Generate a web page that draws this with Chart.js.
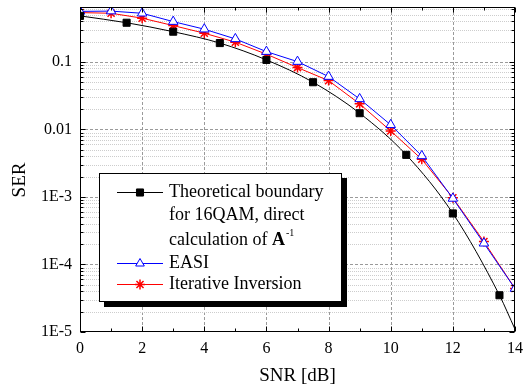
<!DOCTYPE html>
<html><head><meta charset="utf-8">
<script src="https://cdn.jsdelivr.net/npm/chart.js@4/dist/chart.umd.min.js"></script>
<style>html,body{margin:0;padding:0;background:#fff}#wrap{position:relative;width:527px;height:387px}</style>
</head><body><div id="wrap"><canvas id="c" width="527" height="387"></canvas></div>
<script>
// ---- data ----
const snrTheory = [0, 1.5, 3, 4.5, 6, 7.5, 9, 10.5, 12, 13.5, 14];
const serTheory = [0.48, 0.38, 0.28, 0.19, 0.107, 0.050, 0.0174, 0.0042, 5.7e-4, 3.5e-5, 1.1e-5];
const snr = [0, 1, 2, 3, 4, 5, 6, 7, 8, 9, 10, 11, 12, 13, 14];
const serEASI = [0.56, 0.565, 0.525, 0.395, 0.305, 0.219, 0.142, 0.101, 0.0606, 0.0283, 0.0117, 0.00405, 9.5e-4, 2.06e-4, 4.4e-5];
const serIter = [0.537, 0.525, 0.444, 0.345, 0.266, 0.196, 0.130, 0.0824, 0.0528, 0.0239, 0.0095, 0.00361, 9.7e-4, 2.18e-4, 4.4e-5];
const xTickValues = [0, 2, 4, 6, 8, 10, 12, 14];
const xTickLabels = ['0', '2', '4', '6', '8', '10', '12', '14'];
const yTickValues = [1e-5, 1e-4, 1e-3, 0.01, 0.1];
const yTickLabels = ['1E-5', '1E-4', '1E-3', '0.01', '0.1'];
const seriesNames = ['Theoretical boundary', 'EASI', 'Iterative Inversion'];
const xTitle = 'SNR [dB]';
const yTitle = 'SER';

const SERIF = '"Liberation Serif", "Times New Roman", serif';
const isDecade = v => yTickValues.some(t => Math.abs(t - v) / t < 1e-6);

const framePlugin = {
  id: 'frame',
  beforeDatasetsDraw(chart) {
    const ctx = chart.ctx, a = chart.chartArea, xs = chart.scales.x, ys = chart.scales.y;
    ctx.save();
    ctx.lineWidth = 1;
    xs.ticks.forEach(t => {
      if (t.value % 2 !== 0 || t.value <= 0 || t.value >= 14) return;
      const px = Math.round(xs.getPixelForValue(t.value)) + 0.5;
      ctx.strokeStyle = '#9a9a9a'; ctx.setLineDash([3, 2]);
      ctx.beginPath(); ctx.moveTo(px, a.top); ctx.lineTo(px, a.bottom); ctx.stroke();
    });
    ys.ticks.forEach(t => {
      if (t.value <= ys.min * 1.0001 || t.value >= ys.max * 0.9999) return;
      const py = Math.round(ys.getPixelForValue(t.value)) + 0.5;
      if (isDecade(t.value)) { ctx.strokeStyle = '#9a9a9a'; ctx.setLineDash([3, 2]); }
      else { ctx.strokeStyle = '#cdcdcd'; ctx.setLineDash([1, 1]); }
      ctx.beginPath(); ctx.moveTo(a.left, py); ctx.lineTo(a.right, py); ctx.stroke();
    });
    ctx.restore();
  },
  afterDatasetsDraw(chart) {
    const ctx = chart.ctx, a = chart.chartArea, xs = chart.scales.x, ys = chart.scales.y;
    ctx.save();
    ctx.setLineDash([]);
    ctx.strokeStyle = '#000'; ctx.lineWidth = 1;
    const L = Math.round(a.left) + 0.5, R = Math.round(a.right) - 0.5, T = Math.round(a.top) + 0.5, B = Math.round(a.bottom) - 0.5;
    ctx.strokeRect(L, T, R - L, B - T);
    // inward ticks
    ctx.beginPath();
    xs.ticks.forEach(t => {
      const px = Math.round(xs.getPixelForValue(t.value)) + 0.5;
      const len = t.value % 2 === 0 ? 5 : 3;
      ctx.moveTo(px, B); ctx.lineTo(px, B - len);
      ctx.moveTo(px, T); ctx.lineTo(px, T + len);
    });
    ys.ticks.forEach(t => {
      if (t.value > ys.max * 0.9999) return;
      const py = Math.round(ys.getPixelForValue(t.value)) + 0.5;
      const len = isDecade(t.value) ? 5 : 3;
      ctx.moveTo(L, py); ctx.lineTo(L + len, py);
      ctx.moveTo(R, py); ctx.lineTo(R - len, py);
    });
    ctx.stroke();

    // legend box with shadow
    const bx = 99, by = 173, bw = 243, bh = 129;
    ctx.fillStyle = '#000';
    ctx.fillRect(bx + 5, by + 5, bw, bh);
    ctx.fillStyle = '#fff';
    ctx.fillRect(bx, by, bw, bh);
    ctx.strokeRect(bx + 0.5, by + 0.5, bw - 1, bh - 1);

    const ds = chart.data.datasets;
    const rows = [192, 263, 284];
    ctx.font = '18px ' + SERIF;
    ctx.textBaseline = 'middle';
    ctx.textAlign = 'left';
    ds.forEach((d, i) => {
      const y = rows[i] + 0.5;
      ctx.strokeStyle = d.borderColor; ctx.lineWidth = 1;
      ctx.beginPath(); ctx.moveTo(117, y); ctx.lineTo(163, y); ctx.stroke();
      ctx.fillStyle = d.pointBackgroundColor; ctx.strokeStyle = d.borderColor; ctx.lineWidth = d.pointBorderWidth;
      Chart.helpers.drawPoint(ctx, {pointStyle: d.pointStyle, radius: 5, rotation: 0, borderWidth: d.pointBorderWidth}, 140, y);
      ctx.fillStyle = '#000';
      ctx.fillText(seriesNames[i], 169, rows[i]);
    });
    ctx.fillStyle = '#000';
    ctx.fillText('for 16QAM, direct', 169, 215);
    const p3 = 'calculation of ';
    ctx.fillText(p3, 169, 240);
    const w3 = ctx.measureText(p3).width;
    ctx.font = 'bold 18px ' + SERIF;
    ctx.fillText('A', 169 + w3, 240);
    const wA = ctx.measureText('A').width;
    ctx.font = '10px ' + SERIF;
    ctx.fillText('-1', 169 + w3 + wA + 1, 233);

    // axis titles
    ctx.font = '19px ' + SERIF;
    ctx.textAlign = 'center';
    ctx.fillText(xTitle, (a.left + a.right) / 2, 376);
    ctx.translate(20, 180);
    ctx.rotate(-Math.PI / 2);
    ctx.fillText(yTitle, 0, 0);
    ctx.restore();
  }
};

new Chart(document.getElementById('c'), {
  type: 'line',
  data: {
    datasets: [
      {
        label: seriesNames[0],
        data: snrTheory.map((x, i) => ({x, y: serTheory[i]})),
        borderColor: '#000', backgroundColor: '#000', pointBackgroundColor: '#000',
        borderWidth: 1, pointStyle: 'rect', pointBorderWidth: 1,
        pointRadius: snrTheory.map((x, i) => i === snrTheory.length - 1 ? 0 : 5),
        cubicInterpolationMode: 'monotone'
      },
      {
        label: seriesNames[1],
        data: snr.map((x, i) => ({x, y: serEASI[i]})),
        borderColor: '#0000ff', backgroundColor: '#fff', pointBackgroundColor: '#fff',
        borderWidth: 1, pointStyle: 'triangle', pointBorderWidth: 1, pointRadius: 5.5
      },
      {
        label: seriesNames[2],
        data: snr.map((x, i) => ({x, y: serIter[i]})),
        borderColor: '#ff0000', backgroundColor: '#ff0000', pointBackgroundColor: '#ff0000',
        borderWidth: 1, pointStyle: 'star', pointBorderWidth: 1.5, pointRadius: 5
      }
    ]
  },
  options: {
    responsive: false, animation: false, devicePixelRatio: 1,
    layout: {padding: {top: 7, right: 12, left: 0, bottom: 0}},
    plugins: {legend: {display: false}, tooltip: {enabled: false}},
    scales: {
      x: {
        type: 'linear', min: 0, max: 14,
        grid: {display: false, drawTicks: false}, border: {display: false},
        afterBuildTicks: s => { s.ticks = snr.map(v => ({value: v})); },
        ticks: {
          autoSkip: false, maxRotation: 0, padding: 7, color: '#000',
          font: {family: SERIF, size: 16},
          callback: v => { const i = xTickValues.indexOf(v); return i >= 0 ? xTickLabels[i] : ''; }
        },
        afterFit: s => { s.height = 55; s.paddingLeft = 0; s.paddingRight = 0; s.paddingTop = 0; s.paddingBottom = 0; }
      },
      y: {
        type: 'logarithmic', min: 1e-5, max: 0.65,
        grid: {display: false, drawTicks: false}, border: {display: false},
        afterBuildTicks: s => {
          const t = [];
          for (let e = -5; e <= -1; e++) {
            for (let m = 1; m <= 9; m++) {
              const v = m * Math.pow(10, e);
              if (v <= 0.65) t.push({value: v});
            }
          }
          s.ticks = t;
        },
        ticks: {
          autoSkip: false, padding: 8, color: '#000',
          font: {family: SERIF, size: 16},
          callback: v => { const i = yTickValues.findIndex(t => Math.abs(t - v) / t < 1e-6); return i >= 0 ? yTickLabels[i] : ''; }
        },
        afterFit: s => { s.width = 80; s.paddingLeft = 0; s.paddingRight = 0; s.paddingTop = 0; s.paddingBottom = 0; }
      }
    }
  },
  plugins: [framePlugin]
});
</script>
</body></html>
